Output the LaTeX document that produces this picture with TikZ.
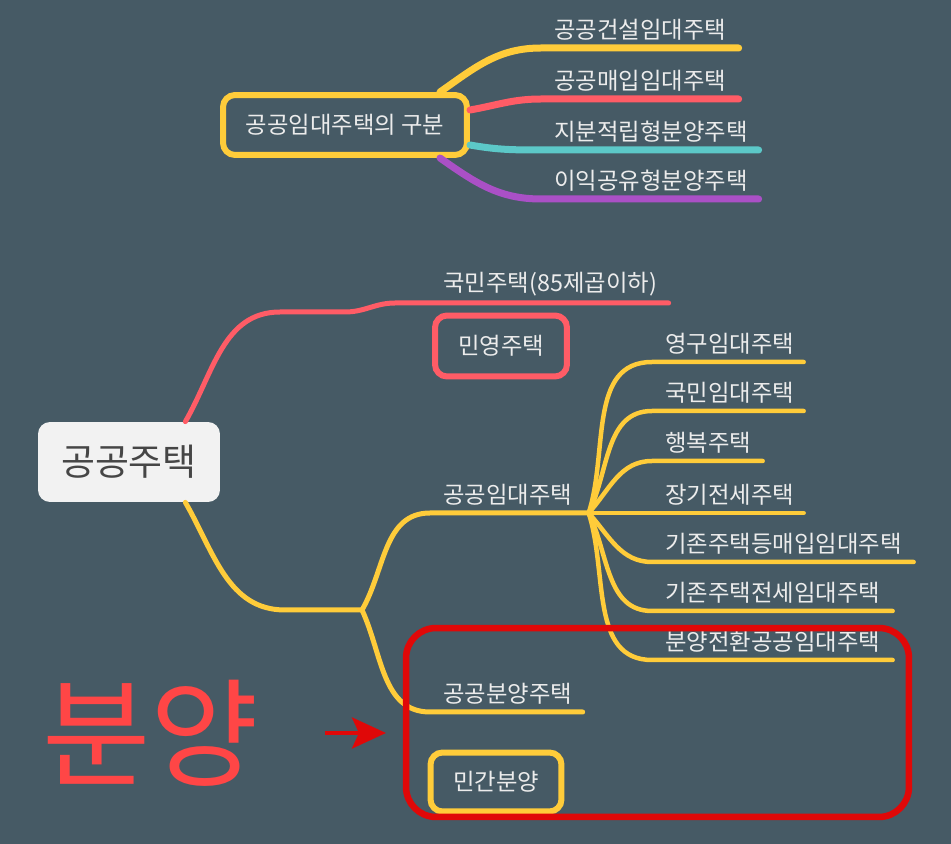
\documentclass[tikz,border=0pt]{standalone}
\usepackage{fontspec}
\setmainfont{Noto Sans CJK KR}
\usetikzlibrary{arrows.meta}

\definecolor{bgc}{RGB}{70,90,101}
\definecolor{ylw}{RGB}{255,204,58}
\definecolor{pnk}{RGB}{255,92,102}
\definecolor{cyn}{RGB}{92,200,200}
\definecolor{prp}{RGB}{170,80,198}
\definecolor{hilite}{RGB}{224,8,8}
\definecolor{bigred}{RGB}{255,70,70}
\definecolor{txt}{RGB}{236,236,236}
\definecolor{rootfill}{RGB}{242,242,242}
\definecolor{roottxt}{RGB}{70,70,70}

\tikzset{
  leaf/.style={anchor=south west, inner xsep=0pt, inner ysep=4pt, text width=#1,
    align=left, text=txt, font=\fontsize{13.3}{15}\selectfont,
    execute at begin node=\noindent\hspace*{0.26cm}},
  tagbox/.style={draw=#1, line width=0.12cm, rounded corners=0.24cm, text=txt,
    font=\fontsize{13.3}{15}\selectfont},
  branch/.style={draw=#1, line width=0.1cm, line cap=round},
  topbranch/.style={draw=#1, line width=0.14cm, line cap=round},
}

\begin{document}
\begin{tikzpicture}[x=0.02cm,y=0.02cm]
\fill[bgc] (0,0) rectangle (951,-844);
\useasboundingbox (0,0) rectangle (951,-844);

% upper map
\node[tagbox=ylw, minimum width=4.88cm, minimum height=1.2cm] (gb) at (345,-125) {공공임대주택의 구분};
\node[leaf=3.94cm] (gc1) at (541,-48) {공공건설임대주택};
\node[leaf=3.94cm] (gc2) at (541,-99) {공공매입임대주택};
\node[leaf=4.34cm] (gc3) at (541,-150) {지분적립형분양주택};
\node[leaf=4.34cm] (gc4) at (541,-199) {이익공유형분양주택};
\draw[topbranch=ylw] ([xshift=-0.6cm]gb.north east) to[out=35,in=180] (gc1.south west) -- (gc1.south east);
\draw[topbranch=pnk] ([yshift=0.3cm]gb.east) to[out=10,in=180] (gc2.south west) -- (gc2.south east);
\draw[topbranch=cyn] ([yshift=-0.4cm]gb.east) to[out=-10,in=180] (gc3.south west) -- (gc3.south east);
\draw[topbranch=prp] ([xshift=-0.6cm]gb.south east) to[out=-35,in=180] (gc4.south west) -- (gc4.south east);

% main map
\node[fill=rootfill, rounded corners=0.24cm, minimum width=3.64cm, minimum height=1.6cm,
  text=roottxt, font=\fontsize{21}{24}\selectfont] (root) at (129,-462) {공공주택};
\node[leaf=4.76cm] (kmj) at (430,-303) {국민주택(85제곱이하)};
\node[tagbox=pnk, minimum width=2.64cm, minimum height=1.22cm] (myj) at (501,-346) {민영주택};
\node[leaf=3.16cm] (pgy) at (430,-513) {공공임대주택};
\node[leaf=3.04cm] (pbu) at (430,-712) {공공분양주택};
\node[tagbox=ylw, minimum width=2.62cm, minimum height=1.18cm] (mgb) at (496,-782) {민간분양};
\coordinate (j) at (362,-610);

\node[leaf=3.02cm] (r1) at (652,-362) {영구임대주택};
\node[leaf=3.02cm] (r2) at (652,-411) {국민임대주택};
\node[leaf=2.2cm] (r3) at (652,-461) {행복주택};
\node[leaf=3.02cm] (r4) at (652,-513) {장기전세주택};
\node[leaf=5.22cm] (r5) at (652,-562) {기존주택등매입임대주택};
\node[leaf=4.8cm] (r6) at (652,-611) {기존주택전세임대주택};
\node[leaf=4.8cm] (r7) at (652,-660) {분양전환공공임대주택};

\draw[branch=pnk] ([xshift=-0.7cm]root.north east) to[out=60,in=180] (280,-312) -- (345,-312)
  to[out=0,in=180] (395,-303) -- (kmj.south west) -- (kmj.south east);
\draw[branch=ylw] ([xshift=-0.7cm]root.south east) to[out=-60,in=180] (285,-610) -- (j);
\draw[branch=ylw] (j) to[out=60,in=180] (pgy.south west) -- (pgy.south east);
\draw[branch=ylw] (j) to[out=-65,in=180] (pbu.south west) -- (pbu.south east);
\foreach \leafname/\ang in {r1/72,r2/64,r3/48,r4/0,r5/-48,r6/-64,r7/-72}
  \draw[branch=ylw, line width=0.09cm] (pgy.south east) to[out=\ang,in=180] (\leafname.south west) -- (\leafname.south east);

% note
\node[text=bigred, font=\fontsize{67}{70}\selectfont] (byg) at (151,-733) {분양};
\coordinate (as) at (325,-733);
\coordinate (ae) at (386,-733);
\draw[hilite, line width=0.08cm, -{Stealth[length=0.68cm,width=0.62cm,inset=0.14cm]}] (as) -- (ae);
\node[draw=hilite, line width=0.13cm, rounded corners=0.6cm, minimum width=10.06cm,
  minimum height=3.78cm] (sel) at (657.5,-722.5) {};
\end{tikzpicture}
\end{document}
